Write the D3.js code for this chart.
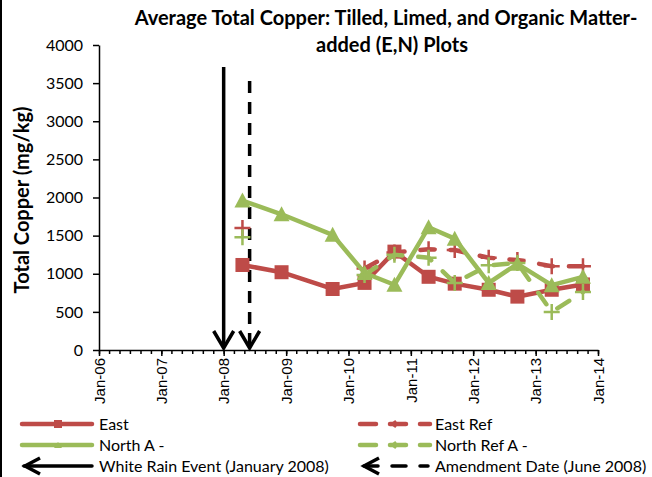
<!DOCTYPE html>
<meta charset="utf-8">
<script src="https://d3js.org/d3.v7.min.js"></script>
<style>
  body { margin: 0; background: #fff; }
  svg { display: block; }
</style>
<div id="chart"></div>
<script>
  // sample dates and series (mg/kg), null = no sample
  var dates = ["2008-04-20", "2008-12-05", "2009-09-30", "2010-04-05", "2010-09-27",
    "2011-04-15", "2011-09-15", "2012-04-01", "2012-09-16", "2013-04-05", "2013-10-05"];
  var east = [1115, 1020, 800, 880, 1290, 960, 870, 790, 700, 790, 860];
  var eastRef = [1600, null, null, 1070, 1280, 1320, 1310, 1210, 1180, 1100, 1100];
  var northA = [1960, 1780, 1510, 1010, 855, 1610, 1460, 880, 1130, 850, 960];
  var northRefA = [1480, null, null, 985, 1250, 1210, 880, 1110, 1140, 500, 760];
  var yTicks = [0, 500, 1000, 1500, 2000, 2500, 3000, 3500, 4000];
  var xTickYears = [2006, 2007, 2008, 2009, 2010, 2011, 2012, 2013, 2014];
  var rainDate = "2008-01-01", amendDate = "2008-06-01";

  var red = "#BE4B48", green = "#9BBB59";
  var parse = d3.timeParse("%Y-%m-%d");

  var svg = d3.select("#chart").append("svg")
    .attr("width", 652).attr("height", 477);

  // left frame edge
  svg.append("line").attr("x1", 1).attr("x2", 1).attr("y1", 0).attr("y2", 477)
    .attr("stroke", "#000").attr("stroke-width", 2);

  var x = d3.scaleTime()
    .domain([new Date(2006, 0, 1), new Date(2014, 0, 1)])
    .range([99, 598]);
  var y = d3.scaleLinear().domain([0, 4000]).range([350, 45]);

  // title
  var title = svg.append("text")
    .attr("text-anchor", "middle")
    .style("font-family", "Lato, sans-serif")
    .style("font-weight", "bold")
    .style("font-size", "20px");
  title.append("tspan").attr("x", 386).attr("y", 25).text("Average Total Copper: Tilled, Limed, and Organic Matter-");
  title.append("tspan").attr("x", 392).attr("y", 52).text("added (E,N) Plots");

  // y axis title
  svg.append("text")
    .attr("transform", "translate(29,200) rotate(-90)")
    .attr("text-anchor", "middle")
    .style("font-family", "Lato, sans-serif")
    .style("font-weight", "bold")
    .style("font-size", "20px")
    .text("Total Copper (mg/kg)");

  // y axis
  var yAxis = svg.append("g")
    .attr("transform", "translate(99,0)")
    .call(d3.axisLeft(y).tickValues(yTicks).tickFormat(d3.format("d"))
      .tickSize(6).tickPadding(10).tickSizeOuter(0));
  yAxis.select(".domain").attr("stroke-width", 1.5);
  yAxis.selectAll(".tick line").attr("stroke-width", 1.5);
  yAxis.selectAll("text")
    .style("font-family", "Lato, sans-serif")
    .style("font-size", "16px");

  // x axis: minor ticks every 2 months, yearly labels
  var xAxisMinor = svg.append("g")
    .attr("transform", "translate(0,350)")
    .call(d3.axisBottom(x).ticks(d3.timeMonth.every(2)).tickSize(4).tickFormat("").tickSizeOuter(0));
  xAxisMinor.selectAll(".tick line").attr("stroke-width", 1.5);
  xAxisMinor.select(".domain").attr("stroke-width", 1.5);

  var xAxis = svg.append("g")
    .attr("transform", "translate(0,350)")
    .call(d3.axisBottom(x)
      .tickValues(xTickYears.map(function(yr) { return new Date(yr, 0, 1); }))
      .tickFormat(d3.timeFormat("Jan-%y")).tickSize(6).tickSizeOuter(0));
  xAxis.select(".domain").remove();
  xAxis.selectAll(".tick line").attr("stroke-width", 1.5);
  xAxis.selectAll("text")
    .attr("transform", "rotate(-90)")
    .attr("x", -8).attr("y", 0).attr("dy", "0.35em")
    .attr("text-anchor", "end")
    .style("font-family", "'Liberation Sans', Arial, sans-serif")
    .style("font-size", "15px");

  // event arrows
  function downArrow(dateStr, top, dashed) {
    var ax = x(parse(dateStr));
    svg.append("line")
      .attr("x1", ax).attr("x2", ax).attr("y1", top).attr("y2", 347)
      .attr("stroke", "#000").attr("stroke-width", 3.5)
      .attr("stroke-dasharray", dashed ? "12,9" : null);
    svg.append("path")
      .attr("d", "M" + (ax - 10) + ",331L" + ax + ",348L" + (ax + 10) + ",331")
      .attr("fill", "none").attr("stroke", "#000").attr("stroke-width", 3.5);
  }
  downArrow(rainDate, 67, false);
  downArrow(amendDate, 81, true);

  function rows(vals) {
    return dates.map(function(d, i) { return { date: parse(d), v: vals[i] }; });
  }
  var line = d3.line()
    .defined(function(d) { return d.v != null; })
    .x(function(d) { return x(d.date); })
    .y(function(d) { return y(d.v); });

  function plusMarks(data, color) {
    svg.append("g").selectAll("path")
      .data(data.filter(function(d) { return d.v != null; }))
      .enter().append("path")
      .attr("d", function(d) {
        var px = x(d.date), py = y(d.v);
        return "M" + (px - 8) + "," + py + "H" + (px + 8) + "M" + px + "," + (py - 8) + "V" + (py + 8);
      })
      .attr("stroke", color).attr("stroke-width", 2.5).attr("fill", "none");
  }

  function dashedSeries(vals, color) {
    var data = rows(vals);
    svg.append("path").datum(data)
      .attr("d", line)
      .attr("fill", "none").attr("stroke", color).attr("stroke-width", 4.5)
      .attr("stroke-linecap", "round").attr("stroke-dasharray", "14,16");
    plusMarks(data, color);
  }

  // East (solid, squares)
  var eastData = rows(east);
  svg.append("path").datum(eastData)
    .attr("d", line).attr("fill", "none").attr("stroke", red).attr("stroke-width", 4.5);
  svg.append("g").selectAll("rect").data(eastData).enter().append("rect")
    .attr("x", function(d) { return x(d.date) - 7; })
    .attr("y", function(d) { return y(d.v) - 7; })
    .attr("width", 14).attr("height", 14)
    .attr("fill", red);

  dashedSeries(eastRef, red);

  // North A (solid, triangles)
  var northData = rows(northA);
  svg.append("path").datum(northData)
    .attr("d", line).attr("fill", "none").attr("stroke", green).attr("stroke-width", 4.5);
  svg.append("g").selectAll("path").data(northData).enter().append("path")
    .attr("d", function(d) {
      var px = x(d.date), py = y(d.v);
      return "M" + (px - 8) + "," + (py + 7) + "L" + px + "," + (py - 8) + "L" + (px + 8) + "," + (py + 7) + "Z";
    })
    .attr("fill", green);

  dashedSeries(northRefA, green);

  // legend
  var legend = svg.append("g")
    .style("font-family", "Lato, sans-serif")
    .style("font-size", "16px");

  function legendText(tx, ty, label) {
    legend.append("text").attr("x", tx).attr("y", ty).attr("dy", "0.35em").text(label);
  }

  // East
  legend.append("line").attr("x1", 22).attr("x2", 92).attr("y1", 424).attr("y2", 424)
    .attr("stroke", red).attr("stroke-width", 4.5).attr("stroke-linecap", "round");
  legend.append("rect").attr("x", 54).attr("y", 420).attr("width", 8).attr("height", 8).attr("fill", red);
  legendText(99, 424, "East");

  // North A
  legend.append("line").attr("x1", 22).attr("x2", 92).attr("y1", 445).attr("y2", 445)
    .attr("stroke", green).attr("stroke-width", 4.5).attr("stroke-linecap", "round");
  legend.append("path").attr("d", "M54,448L58,442L62,448Z").attr("fill", green);
  legendText(99, 445, "North A -");

  // dashed refs
  [[red, 424, "East Ref"], [green, 445, "North Ref A -"]].forEach(function(r) {
    legend.append("line").attr("x1", 360).attr("x2", 430).attr("y1", r[1]).attr("y2", r[1])
      .attr("stroke", r[0]).attr("stroke-width", 4.5).attr("stroke-linecap", "round")
      .attr("stroke-dasharray", "16,14");
    legend.append("path")
      .attr("d", "M392," + r[1] + "L396," + (r[1] - 3) + "M392," + r[1] + "L396," + (r[1] + 3))
      .attr("stroke", r[0]).attr("stroke-width", 2.5);
    legendText(435, r[1], r[2]);
  });

  // arrows
  legend.append("line").attr("x1", 24).attr("x2", 92).attr("y1", 466).attr("y2", 466)
    .attr("stroke", "#000").attr("stroke-width", 3.5).attr("stroke-linecap", "round");
  legend.append("path").attr("d", "M40,458L25,466L40,474")
    .attr("fill", "none").attr("stroke", "#000").attr("stroke-width", 3.5);
  legendText(99, 466, "White Rain Event (January 2008)");

  legend.append("line").attr("x1", 364).attr("x2", 428).attr("y1", 466).attr("y2", 466)
    .attr("stroke", "#000").attr("stroke-width", 3.5).attr("stroke-linecap", "round")
    .attr("stroke-dasharray", "14,14");
  legend.append("path").attr("d", "M379,458L364,466L379,474")
    .attr("fill", "none").attr("stroke", "#000").attr("stroke-width", 3.5);
  legendText(435, 466, "Amendment Date (June 2008)");
</script>
